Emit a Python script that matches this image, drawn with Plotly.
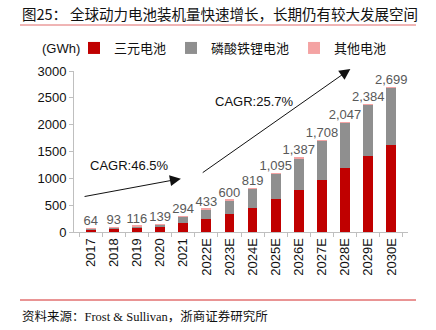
import plotly.graph_objects as go

years = ["2017", "2018", "2019", "2020", "2021", "2022E", "2023E", "2024E",
         "2025E", "2026E", "2027E", "2028E", "2029E", "2030E"]
totals = [64, 93, 116, 139, 294, 433, 600, 819, 1095, 1387, 1708, 2047, 2384, 2699]
ncm = [40, 58, 80, 95, 175, 244, 344, 456, 606, 775, 962, 1187, 1410, 1625]
other = [6, 5, 5, 5, 5, 6, 6, 7, 8, 9, 10, 10, 11, 12]
lfp = [t - a - b for t, a, b in zip(totals, ncm, other)]

series_names = ["三元电池", "磷酸铁锂电池", "其他电池"]
colors = ["#C00000", "#8F8F8F", "#F4A3A3"]
y_ticks = [0, 500, 1000, 1500, 2000, 2500, 3000]

FONT = "Liberation Sans, Arial, Noto Sans CJK SC, sans-serif"

fig = go.Figure()
for name, vals, c in zip(series_names, [ncm, lfp, other], colors):
    fig.add_trace(go.Bar(x=years, y=vals, name=name, marker_color=c,
                         marker_line_width=0, width=0.42))

fig.add_trace(go.Scatter(x=years, y=totals, mode="text",
                         texttemplate="%{y:,}", textposition="top center",
                         textfont=dict(size=13, color="#595959", family=FONT),
                         showlegend=False, hoverinfo="skip", cliponaxis=False))

L, R, T, B = 74, 28, 71, 98
W, H = 436, 330
pw, ph = W - L - R, H - T - B

def px(x):
    return (x - L) / pw

def py(y):
    return (H - B - y) / ph

fig.update_layout(
    width=W, height=H, barmode="stack",
    margin=dict(l=L, r=R, t=T, b=B),
    paper_bgcolor="white", plot_bgcolor="white",
    font=dict(family=FONT, size=13, color="#111111"),
    showlegend=True,
    legend=dict(orientation="h", x=px(74), xanchor="left", y=py(48), yanchor="middle",
                font=dict(size=13, family="Noto Sans CJK SC, sans-serif", color="#111111"),
                bgcolor="rgba(0,0,0,0)", itemwidth=30, traceorder="normal"),
    xaxis=dict(type="category", tickangle=-90, showline=True, linecolor="#BFBFBF",
               linewidth=1, ticks="outside", tickson="boundaries", ticklen=4,
               tickcolor="#BFBFBF", showgrid=False,
               tickfont=dict(size=13, color="#111111")),
    yaxis=dict(range=[0, 3000], tickvals=y_ticks, showline=True, linecolor="#BFBFBF",
               linewidth=1, ticks="outside", ticklen=4, tickcolor="#BFBFBF",
               showgrid=False, zeroline=False, tickfont=dict(size=13, color="#111111")),
)

# Title, source and rules
TFONT = dict(size=14.5, family="Noto Sans CJK SC, sans-serif", color="#111111")
fig.add_annotation(xref="paper", yref="paper", x=px(20), y=py(13), xanchor="left",
                   yanchor="middle", showarrow=False, text="图25：", font=TFONT)
fig.add_annotation(xref="paper", yref="paper", x=px(68), y=py(13), xanchor="left",
                   yanchor="middle", showarrow=False,
                   text="全球动力电池装机量快速增长，长期仍有较大发展空间", font=TFONT)
fig.add_annotation(xref="paper", yref="paper", x=px(20), y=py(316), xanchor="left",
                   yanchor="middle", showarrow=False,
                   text="资料来源：Frost &amp; Sullivan，浙商证券研究所",
                   font=dict(size=12.5, family="Liberation Serif, Noto Sans CJK SC, serif",
                             color="#111111"))
fig.add_shape(type="line", xref="paper", yref="paper", x0=px(20), x1=px(416),
              y0=py(25), y1=py(25), line=dict(color="#E06A6A", width=1))
fig.add_shape(type="line", xref="paper", yref="paper", x0=px(20), x1=px(416),
              y0=py(300), y1=py(300), line=dict(color="#D42A2A", width=1))

fig.add_annotation(xref="paper", yref="paper", x=px(40), y=py(48), xanchor="left",
                   yanchor="middle", showarrow=False, text="(GWh)",
                   font=dict(size=13, color="#111111"))

# CAGR arrows
fig.add_annotation(x=3.9, y=994, ax=-0.33, ay=656, xref="x", yref="y", axref="x", ayref="y",
                   showarrow=True, arrowhead=2, arrowsize=2.2, arrowwidth=1,
                   arrowcolor="#111111", text="")
fig.add_annotation(x=11.23, y=3037, ax=4.78, ay=1087, xref="x", yref="y", axref="x", ayref="y",
                   showarrow=True, arrowhead=2, arrowsize=2.2, arrowwidth=1,
                   arrowcolor="#111111", text="")
fig.add_annotation(x=-0.12, y=1243, xref="x", yref="y", xanchor="left", yanchor="middle",
                   showarrow=False, text="CAGR:46.5%", font=dict(size=13, color="#111111"))
fig.add_annotation(x=5.28, y=2431, xref="x", yref="y", xanchor="left", yanchor="middle",
                   showarrow=False, text="CAGR:25.7%", font=dict(size=13, color="#111111"))

fig.write_html("out.html")
